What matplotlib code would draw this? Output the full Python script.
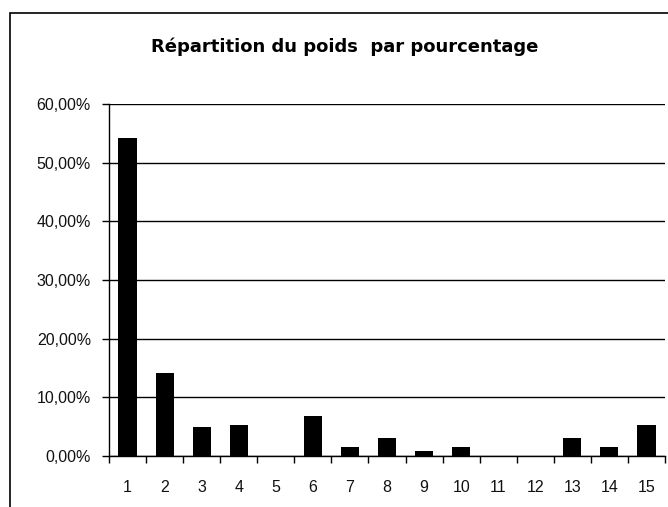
import numpy as np
import matplotlib.pyplot as plt
from matplotlib.patches import Rectangle
from matplotlib.ticker import FuncFormatter, FixedLocator

# Data
categories = [str(i) for i in range(1, 16)]
values = [54.2, 14.1, 4.9, 5.3, 0.0, 6.8, 1.5, 3.1, 0.9, 1.5, 0.0, 0.0, 3.0, 1.5, 5.3]
title = "Répartition du poids  par pourcentage"

plt.rcParams['font.family'] = ['Liberation Sans', 'DejaVu Sans']

fig = plt.figure(figsize=(6.68, 5.07), dpi=100)

# outer chart border (cut off at right and bottom)
fig.patches.append(Rectangle((10 / 668, -0.1), 1.2, 1 - 13 / 507 + 0.1,
                             transform=fig.transFigure, fill=False,
                             edgecolor='black', linewidth=1.2))

ax = fig.add_axes([109 / 668, 1 - 456 / 507, 556 / 668, 352 / 507])
x = np.arange(len(categories))
ax.bar(x, values, width=0.49, color='black', zorder=3)

ax.set_xlim(-0.5, len(categories) - 0.5)
ax.set_ylim(0, 60)
ax.set_yticks(np.arange(0, 61, 10))
ax.yaxis.set_major_formatter(FuncFormatter(lambda v, p: f"{v:.2f}".replace('.', ',') + "%"))
ax.yaxis.grid(True, color='black', linewidth=1)

ax.set_xticks(x)
ax.set_xticklabels(categories)
ax.xaxis.set_minor_locator(FixedLocator(np.arange(-0.5, len(categories), 1)))
ax.tick_params(axis='x', which='major', length=0, pad=17, labelsize=11.5, labelcolor='#111111')
ax.tick_params(axis='x', which='minor', length=5, direction='out', width=1)
ax.tick_params(axis='y', length=5, width=1, pad=8, labelsize=11.5, labelcolor='#111111')

for s in ['top', 'right']:
    ax.spines[s].set_visible(False)
ax.spines['left'].set_linewidth(1)
ax.spines['bottom'].set_linewidth(1)
ax.set_axisbelow(True)

fig.text(345 / 668, 1 - 47 / 507, title, ha='center', va='center',
         fontsize=13, fontweight='bold', family='DejaVu Sans')

fig.savefig('out.png', dpi=100)
